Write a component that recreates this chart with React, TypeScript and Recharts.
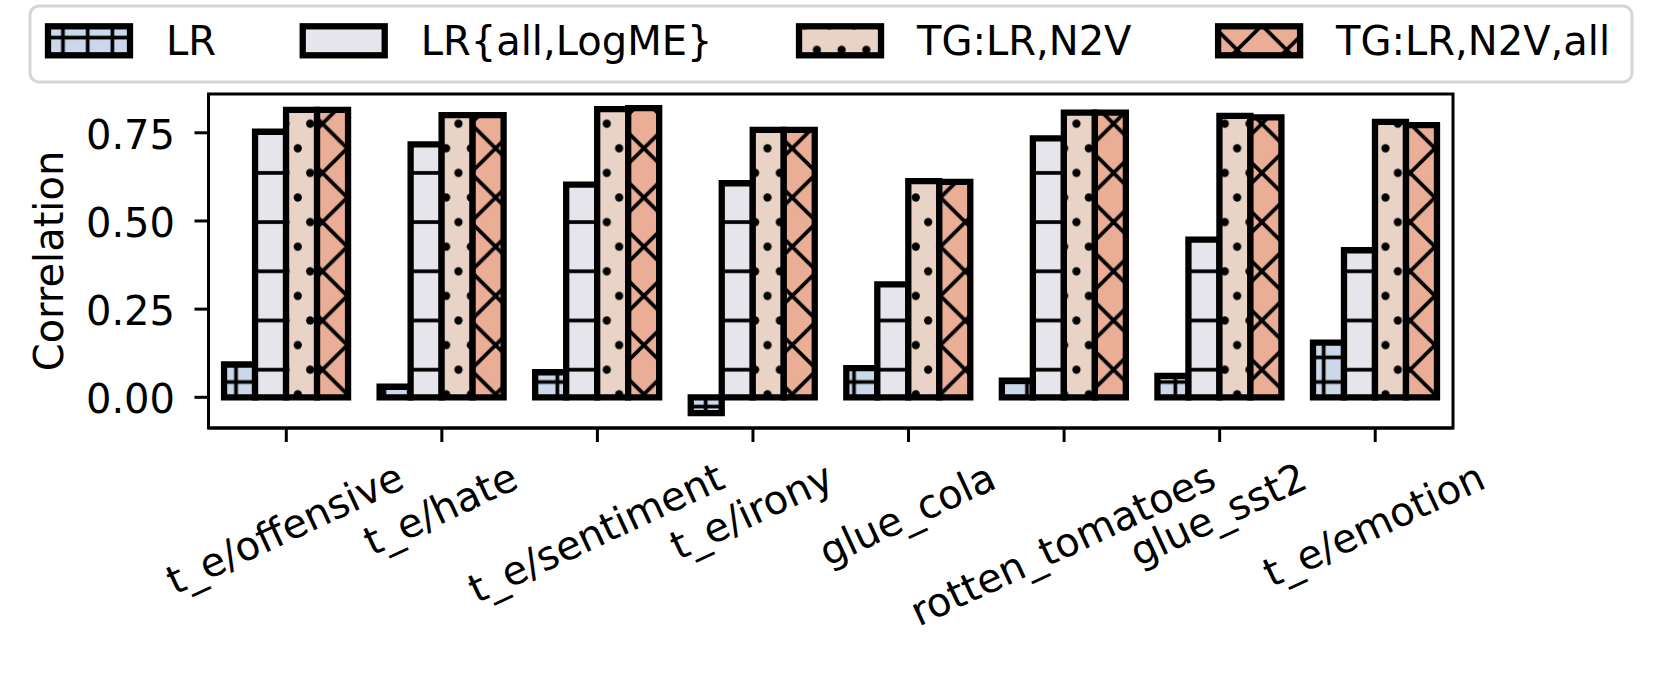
import { Bar, BarChart, Legend, ReferenceArea, XAxis, YAxis } from "recharts";

// ─── Data ─────────────────────────────────────────────────────────────────────
const CATEGORIES = [
  "t_e/offensive",
  "t_e/hate",
  "t_e/sentiment",
  "t_e/irony",
  "glue_cola",
  "rotten_tomatoes",
  "glue_sst2",
  "t_e/emotion",
];
const LR = [0.093, 0.03, 0.071, -0.045, 0.083, 0.047, 0.061, 0.155];
const LR_ALL = [0.753, 0.717, 0.603, 0.607, 0.32, 0.734, 0.447, 0.417];
const TG = [0.815, 0.8, 0.817, 0.758, 0.613, 0.807, 0.798, 0.781];
const TG_ALL = [0.815, 0.8, 0.82, 0.758, 0.611, 0.807, 0.794, 0.772];
const Y_TICKS = [0, 0.25, 0.5, 0.75];
const Y_DOMAIN = [-0.087, 0.86];

const SERIES = [
  { key: "lr", name: "LR", values: LR, pattern: "hatch-lr" },
  { key: "lrAll", name: "LR{all,LogME}", values: LR_ALL, pattern: "hatch-lrall" },
  { key: "tg", name: "TG:LR,N2V", values: TG, pattern: "hatch-tg" },
  { key: "tgAll", name: "TG:LR,N2V,all", values: TG_ALL, pattern: "hatch-tgall" },
];

// ─── Layout / style ───────────────────────────────────────────────────────────
const W = 1662;
const H = 683;
const FONT = '"DejaVu Sans", sans-serif';
const FS = 40;
const ANGLE = 25;

const COLORS = {
  lr: "#cad8ea",
  lrAll: "#e5e5eb",
  tg: "#e9d3c7",
  tgAll: "#e9ae95",
} as const;

// hatch lattice (page coordinates, svg sits at 0,0)
const PX = 24.72;
const PY = 24.6;
const X0 = 236;
const Y0 = 148.3;
const HATCH_W = 3.7;
const DOT_R = 4.1;
const EDGE_W = 6.3;

let ctx: CanvasRenderingContext2D | null = null;
function measure(text: string) {
  if (!ctx) ctx = document.createElement("canvas").getContext("2d");
  if (!ctx) return text.length * FS * 0.6;
  ctx.font = `${FS}px "DejaVu Sans"`;
  return ctx.measureText(text).width;
}

const data = CATEGORIES.map((name, i) => {
  const row: Record<string, string | number> = { name };
  SERIES.forEach((s) => (row[s.key] = s.values[i]));
  return row;
});

// ─── Hatch patterns ───────────────────────────────────────────────────────────
function HatchDefs() {
  const k = "#000";
  return (
    <defs>
      <pattern id="hatch-lr" patternUnits="userSpaceOnUse" x={X0 - PX / 2} y={Y0} width={PX} height={PY}>
        <rect width={PX} height={PY} fill={COLORS.lr} />
        <line x1={PX / 2} x2={PX / 2} y1={0} y2={PY} stroke={k} strokeWidth={HATCH_W} />
        <line x1={0} x2={PX} y1={PY / 2} y2={PY / 2} stroke={k} strokeWidth={HATCH_W} />
      </pattern>
      <pattern id="hatch-lrall" patternUnits="userSpaceOnUse" x={0} y={Y0} width={PX} height={2 * PY}>
        <rect width={PX} height={2 * PY} fill={COLORS.lrAll} />
        <line x1={0} x2={PX} y1={PY} y2={PY} stroke={k} strokeWidth={HATCH_W} />
      </pattern>
      <pattern id="hatch-tg" patternUnits="userSpaceOnUse" x={X0 - PX / 4} y={Y0 - PY / 2} width={PX} height={2 * PY}>
        <rect width={PX} height={2 * PY} fill={COLORS.tg} />
        <circle cx={0.75 * PX} cy={PY / 2} r={DOT_R} fill={k} />
        <circle cx={0.25 * PX} cy={1.5 * PY} r={DOT_R} fill={k} />
      </pattern>
      <pattern id="hatch-tgall" patternUnits="userSpaceOnUse" x={X0 + 1.5 * PX} y={Y0 + PY} width={2 * PX} height={2 * PY}>
        <rect width={2 * PX} height={2 * PY} fill={COLORS.tgAll} />
        <path
          d={[
            `M${-0.3 * PX},${-0.3 * PY}L${2.3 * PX},${2.3 * PY}`,
            `M${PX},${-PY}L${3 * PX},${PY}`,
            `M${-PX},${PY}L${PX},${3 * PY}`,
            `M${2.3 * PX},${-0.3 * PY}L${-0.3 * PX},${2.3 * PY}`,
            `M${-PX},${PY}L${PX},${-PY}`,
            `M${PX},${3 * PY}L${3 * PX},${PY}`,
          ].join("")}
          stroke={k}
          strokeWidth={HATCH_W}
          fill="none"
        />
      </pattern>
    </defs>
  );
}

// ─── Ticks / labels ───────────────────────────────────────────────────────────
function XTick({ x, y, payload }: any) {
  const label = String(payload.value);
  const rad = (ANGLE * Math.PI) / 180;
  const hb = measure(label) * Math.sin(rad) + FS * Math.cos(rad);
  const cy = y + hb / 2;
  return (
    <text
      x={x}
      y={cy}
      dy={0.26 * FS}
      textAnchor="middle"
      transform={`rotate(-${ANGLE} ${x} ${cy})`}
      fontFamily={FONT}
      fontSize={FS}
      fill="#000"
    >
      {label}
    </text>
  );
}

function YTick({ x, y, payload }: any) {
  return (
    <text x={x} y={y} dy={16} textAnchor="end" fontFamily={FONT} fontSize={FS} fill="#000">
      {Number(payload.value).toFixed(2)}
    </text>
  );
}

function YLabel({ viewBox }: any) {
  const cx = 63;
  const cy = viewBox.y + viewBox.height / 2;
  return (
    <text
      x={cx}
      y={cy}
      textAnchor="middle"
      transform={`rotate(-90 ${cx} ${cy})`}
      fontFamily={FONT}
      fontSize={FS}
      fill="#000"
    >
      Correlation
    </text>
  );
}

// ─── Legend (one row, expanded across the box) ────────────────────────────────
function LegendBox({ payload }: any) {
  const items = (payload ?? []).map((p: any) => ({
    name: String(p.value),
    fill: p.color as string,
  }));
  const patchW = 88;
  const pad = 33;
  const left = 45;
  const right = 1610;
  const widths = items.map((it: any) => patchW + pad + measure(it.name));
  const total = widths.reduce((a: number, b: number) => a + b, 0);
  const gap = items.length > 1 ? (right - left - total) / (items.length - 1) : 0;
  let cursor = left;
  return (
    <svg width={W} height={90} style={{ display: "block" }}>
      <rect x={30} y={6} width={1602} height={76} rx={9} fill="#fff" stroke="#d6d6d6" strokeWidth={3} />
      {items.map((it: any, i: number) => {
        const x = cursor;
        cursor += widths[i] + gap;
        return (
          <g key={it.name}>
            <rect x={x + 3} y={26.3} width={patchW - 6} height={29} fill={it.fill} stroke="#000" strokeWidth={EDGE_W} />
            <text x={x + patchW + pad} y={55} fontFamily={FONT} fontSize={FS} fill="#000">
              {it.name}
            </text>
          </g>
        );
      })}
    </svg>
  );
}

// ─── Chart ────────────────────────────────────────────────────────────────────
export default function App() {
  return (
    <div style={{ position: "absolute", left: 0, top: 0, width: W, height: H, background: "#fff" }}>
      <BarChart
        width={W}
        height={H}
        data={data}
        margin={{ top: 94, right: 209, bottom: 55, left: 108.5 }}
        barCategoryGap="10%"
        barGap={0}
      >
        <HatchDefs />
        <XAxis
          dataKey="name"
          interval={0}
          height={200}
          tickSize={14}
          tickMargin={17.5}
          tick={<XTick />}
          tickLine={{ stroke: "#000", strokeWidth: 3 }}
          axisLine={{ stroke: "#000", strokeWidth: 3 }}
        />
        <YAxis
          domain={Y_DOMAIN}
          ticks={Y_TICKS}
          width={100}
          tickSize={14}
          tickMargin={19.5}
          tick={<YTick />}
          tickLine={{ stroke: "#000", strokeWidth: 3 }}
          axisLine={{ stroke: "#000", strokeWidth: 3 }}
          label={<YLabel />}
        />
        {/* plot frame (matplotlib spines) */}
        <ReferenceArea
          x1={CATEGORIES[0]}
          x2={CATEGORIES[CATEGORIES.length - 1]}
          y1={Y_DOMAIN[0]}
          y2={Y_DOMAIN[1]}
          fill="none"
          stroke="#000"
          strokeWidth={3}
          ifOverflow="visible"
        />
        <Legend
          layout="horizontal"
          align="center"
          verticalAlign="middle"
          wrapperStyle={{ left: 0, top: 0, width: W, height: 90 }}
          content={<LegendBox />}
        />
        {SERIES.map((s) => (
          <Bar
            key={s.key}
            dataKey={s.key}
            name={s.name}
            fill={`url(#${s.pattern})`}
            stroke="#000"
            strokeWidth={EDGE_W}
            isAnimationActive={false}
          />
        ))}
      </BarChart>
    </div>
  );
}
